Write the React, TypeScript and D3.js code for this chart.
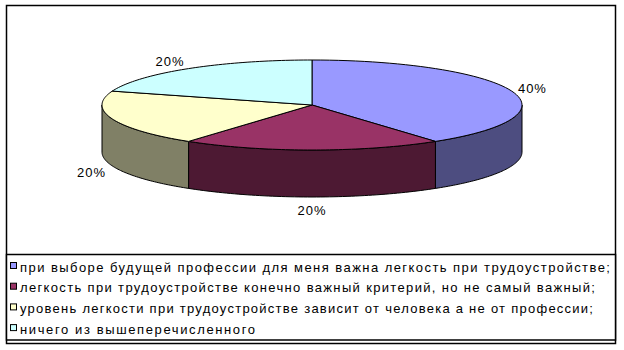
import React from "react";
import * as d3 from "d3";

const categories = [
  "при выборе будущей профессии для меня важна легкость при трудоустройстве;",
  "легкость при трудоустройстве конечно важный критерий, но не самый важный;",
  "уровень легкости при трудоустройстве зависит от человека а не от профессии;",
  "ничего из вышеперечисленного",
];
const values = [40, 20, 20, 20];
const labels = ["40%", "20%", "20%", "20%"];
const topColors = ["#9999FF", "#993366", "#FFFFCC", "#CCFFFF"];
const sideColors = ["#4D4D80", "#4D1933", "#808066", "#668080"];
const legendWidths = [590, 575, 573, 235];

const W = 624;
const H = 350;
const cx = 312;
const cy = 105;
const rx = 210;
const ry = 45;
const depth = 47;

export default function App() {
  const pie = d3.pie<number>().sort(null).startAngle(0).endAngle(2 * Math.PI);
  const arcs = pie(values);
  const px = (a: number) => cx + rx * Math.sin(a);
  const py = (a: number) => cy - ry * Math.cos(a);
  const line = d3.line<[number, number]>();

  const sample = (a0: number, a1: number, n = 60) =>
    d3.range(n + 1).map((i) => a0 + ((a1 - a0) * i) / n);

  const tops = arcs.map((a) => {
    const pts: [number, number][] = [[cx, cy]];
    sample(a.startAngle, a.endAngle).forEach((t) => pts.push([px(t), py(t)]));
    return line(pts) + "Z";
  });

  const sides = arcs.map((a) => {
    const s = Math.max(a.startAngle, Math.PI / 2);
    const e = Math.min(a.endAngle, (3 * Math.PI) / 2);
    if (e <= s) return null;
    const angs = sample(s, e);
    const pts: [number, number][] = angs.map((t) => [px(t), py(t)]);
    angs
      .slice()
      .reverse()
      .forEach((t) => pts.push([px(t), py(t) + depth]));
    return line(pts) + "Z";
  });

  const labelPos = arcs.map((a) => {
    const m = (a.startAngle + a.endAngle) / 2;
    const sn = Math.sin(m);
    const cs = Math.cos(m);
    const sgn = Math.abs(sn) < 1e-6 ? 0 : Math.sign(sn);
    const x = cx + (rx + 6) * sn + 15 * sgn;
    const y = cy - (ry + 10) * cs + (cs < 0 ? depth + 3 : 0) + 5;
    return [x, y];
  });

  const legendTop = 254;
  const rowY = (i: number) => 267 + i * 20.7;

  return (
    <svg
      width={W}
      height={H}
      style={{ position: "absolute", left: 0, top: 0 }}
      fontFamily="'Liberation Sans', Arial, sans-serif"
    >
      <rect x={0} y={0} width={W} height={H} fill="#fff" />
      <rect x={6.5} y={5.5} width={609} height={338} fill="#fff" stroke="#000" strokeWidth={1.5} />
      {sides.map((d, i) =>
        d ? <path key={"s" + i} d={d} fill={sideColors[i]} stroke="#000" strokeWidth={1} strokeLinejoin="round" /> : null
      )}
      {tops.map((d, i) => (
        <path key={"t" + i} d={d} fill={topColors[i]} stroke="#000" strokeWidth={1} strokeLinejoin="round" />
      ))}
      {labelPos.map(([x, y], i) => (
        <text key={"l" + i} x={x} y={y} textAnchor="middle" fontSize={13} letterSpacing={1} fill="#000">
          {labels[i]}
        </text>
      ))}
      <rect x={6.5} y={legendTop + 0.5} width={609} height={85.5} fill="#fff" stroke="#000" strokeWidth={1.5} />
      {categories.map((c, i) => (
        <g key={"g" + i}>
          <rect x={10.5} y={rowY(i) - 4.5} width={6} height={6} fill={topColors[i]} stroke="#000" strokeWidth={1} />
          <text
            x={20}
            y={rowY(i) + 4.5}
            fontSize={13}
            fill="#000"
            textLength={legendWidths[i]}
            lengthAdjust="spacing"
          >
            {c}
          </text>
        </g>
      ))}
    </svg>
  );
}
